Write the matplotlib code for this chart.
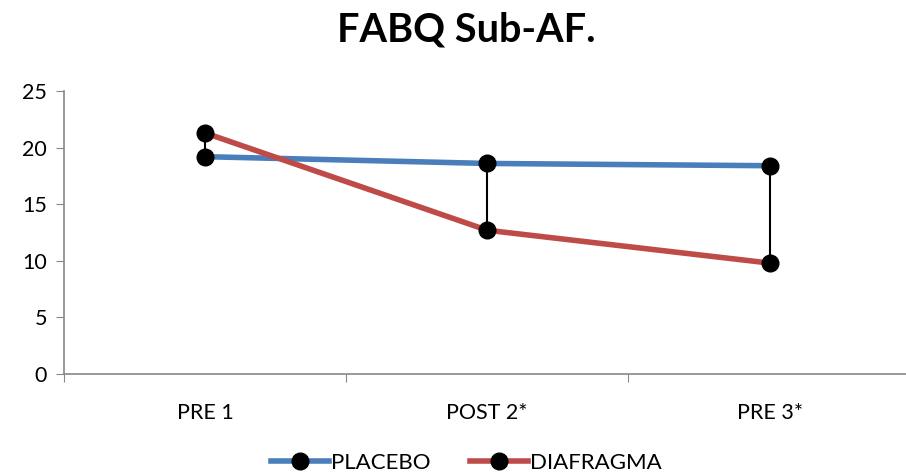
import matplotlib.pyplot as plt
from matplotlib.lines import Line2D

categories = ['PRE 1', 'POST 2*', 'PRE 3*']
placebo = [19.2, 18.6, 18.4]
diafragma = [21.3, 12.7, 9.8]

plt.rcParams['font.family'] = ['Lato', 'DejaVu Sans']

fig = plt.figure(figsize=(9.06, 4.76), dpi=100)
ax = fig.add_axes([0.0703, 0.2143, 0.935, 0.5945])

x = range(len(categories))

# high-low lines between the two series
for i in x:
    ax.plot([i, i], [placebo[i], diafragma[i]], color='black', lw=1.5, zorder=2)

ax.plot(x, placebo, color='#4a7ebb', lw=4, marker='o', ms=12,
        mfc='black', mec='black', label='PLACEBO', zorder=3)
ax.plot(x, diafragma, color='#be4b48', lw=4, marker='o', ms=12,
        mfc='black', mec='black', label='DIAFRAGMA', zorder=3)

ax.set_xlim(-0.5, 2.5)
ax.set_ylim(0, 25)
ax.set_yticks([0, 5, 10, 15, 20, 25])
ax.set_xticks([-0.5, 0.5, 1.5, 2.5])
ax.set_xticklabels([])
ax.set_xticks(list(x), minor=True)
ax.set_xticklabels(categories, minor=True)
ax.tick_params(axis='x', which='minor', length=0, pad=21, labelsize=15.5)
ax.tick_params(axis='x', which='major', length=6, direction='out', color='#888888')
ax.tick_params(axis='y', length=6, direction='out', color='#888888', labelsize=15.5, pad=6)

for side in ['top', 'right']:
    ax.spines[side].set_visible(False)
for side in ['left', 'bottom']:
    ax.spines[side].set_color('#888888')
    ax.spines[side].set_linewidth(1.2)

fig.text(0.515, 0.936, 'FABQ Sub-AF.', ha='center', va='center',
         fontsize=28.5, fontweight='bold')

handles = [
    Line2D([], [], color='#4a7ebb', lw=4, marker='o', ms=12, mfc='black', mec='black'),
    Line2D([], [], color='#be4b48', lw=4, marker='o', ms=12, mfc='black', mec='black'),
]
fig.legend(handles, ['PLACEBO', 'DIAFRAGMA'], loc='center', bbox_to_anchor=(0.515, 0.027),
           ncol=2, frameon=False, fontsize=16, handlelength=2.6, handletextpad=0.1,
           columnspacing=1.8)

fig.savefig('out.png', dpi=100)
